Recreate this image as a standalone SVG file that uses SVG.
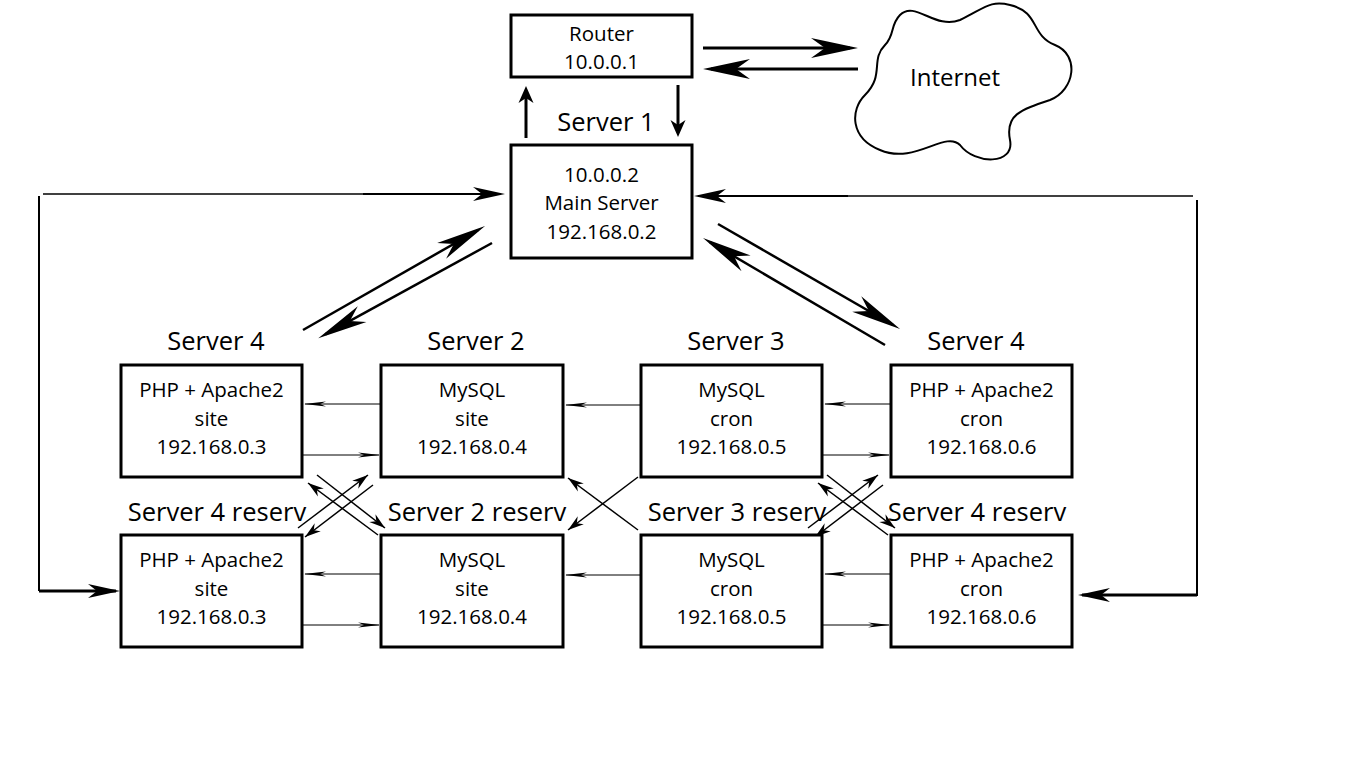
<svg xmlns="http://www.w3.org/2000/svg" width="1366" height="768" viewBox="0 0 1366 768">
<style>
text{font-family:"Open Sans","Noto Sans",sans-serif;fill:#000;text-anchor:middle}
.bt{font-size:20.5px}
.lb{font-size:25.5px}
.box{fill:#fff;stroke:#000;stroke-width:3}
.c{fill:none;stroke:#000}
</style>
<defs>
<marker id="ah" markerUnits="userSpaceOnUse" orient="auto" refX="-8" refY="0" markerWidth="1" markerHeight="1" overflow="visible"><path d="M0,0 L-47,-10 L-33,0 L-47,10 Z"/></marker>
<marker id="av" markerUnits="userSpaceOnUse" orient="auto" refX="-5" refY="0" markerWidth="1" markerHeight="1" overflow="visible"><path d="M0,0 L-17,-7.5 L-12,0 L-17,7.5 Z"/></marker>
<marker id="ad" markerUnits="userSpaceOnUse" orient="auto" refX="-8" refY="0" markerWidth="1" markerHeight="1" overflow="visible"><path d="M0,0 L-50,-9 L-36,0 L-50,9 Z"/></marker>
<marker id="ac" markerUnits="userSpaceOnUse" orient="auto" refX="-4" refY="0" markerWidth="1" markerHeight="1" overflow="visible"><path d="M0,0 L-32,-7 L-23,0 L-32,7 Z"/></marker>
<marker id="as" markerUnits="userSpaceOnUse" orient="auto" refX="-1" refY="0" markerWidth="1" markerHeight="1" overflow="visible"><path d="M0,0 L-22,-2.5 L-16,0 L-22,2.5 Z"/></marker>
<marker id="ax" markerUnits="userSpaceOnUse" orient="auto" refX="0" refY="0" markerWidth="1" markerHeight="1" overflow="visible"><path d="M0,0 L-16,-5 L-11,0 L-16,5 Z"/></marker>
</defs>
<rect width="1366" height="768" fill="#fff"/>

<g id="connectors">
<path class="c" stroke-width="3" d="M703,48 H850" marker-end="url(#ah)"/>
<path class="c" stroke-width="3" d="M858,69 H711" marker-end="url(#ah)"/>
<path class="c" stroke-width="3" d="M526,138 V91" marker-end="url(#av)"/>
<path class="c" stroke-width="3" d="M678,85 V132" marker-end="url(#av)"/>
<path class="c" stroke-width="2.5" d="M303,330 L478.1,230" marker-end="url(#ad)"/>
<path class="c" stroke-width="2.5" d="M492,243 L325.3,334.4" marker-end="url(#ad)"/>
<path class="c" stroke-width="2.5" d="M718,224 L893.1,325" marker-end="url(#ad)"/>
<path class="c" stroke-width="2.5" d="M885,345 L709.9,242.1" marker-end="url(#ad)"/>
<path class="c" stroke-width="1.5" d="M43,194 H363"/>
<path class="c" stroke-width="2" d="M363,194 H501" marker-end="url(#ac)"/>
<path class="c" stroke-width="2" d="M39,196 V591"/>
<path class="c" stroke-width="3" d="M39,591 H116" marker-end="url(#ac)"/>
<path class="c" stroke-width="1.5" d="M1193,196 H848"/>
<path class="c" stroke-width="2" d="M848,196 H698" marker-end="url(#ac)"/>
<path class="c" stroke-width="2" d="M1197,200 V596"/>
<path class="c" stroke-width="3" d="M1197,595 H1082" marker-end="url(#ac)"/>
<g stroke-width="1">
<path class="c" d="M381,404 H305" marker-end="url(#as)"/>
<path class="c" d="M303,455 H379" marker-end="url(#as)"/>
<path class="c" d="M641,405 H566" marker-end="url(#as)"/>
<path class="c" d="M891,404 H825" marker-end="url(#as)"/>
<path class="c" d="M822,455 H889" marker-end="url(#as)"/>
<path class="c" d="M381,574 H305" marker-end="url(#as)"/>
<path class="c" d="M303,625 H379" marker-end="url(#as)"/>
<path class="c" d="M641,575 H566" marker-end="url(#as)"/>
<path class="c" d="M891,574 H825" marker-end="url(#as)"/>
<path class="c" d="M822,625 H889" marker-end="url(#as)"/>
</g>
<g stroke-width="1.5">
<path class="c" d="M317,475 L385,528" marker-end="url(#ax)"/>
<path class="c" d="M378,535 L308,483" marker-end="url(#ax)"/>
<path class="c" d="M298,528 L368,475" marker-end="url(#ax)"/>
<path class="c" d="M373,485 L305,537" marker-end="url(#ax)"/>
<path class="c" d="M638,530 L568,478" marker-end="url(#ax)"/>
<path class="c" d="M638,477 L568,530" marker-end="url(#ax)"/>
<path class="c" d="M827,475 L895,528" marker-end="url(#ax)"/>
<path class="c" d="M888,535 L818,483" marker-end="url(#ax)"/>
<path class="c" d="M808,528 L878,475" marker-end="url(#ax)"/>
<path class="c" d="M883,485 L815,537" marker-end="url(#ax)"/>
</g>
</g>

<g id="internet">
<path fill="#fff" stroke="#000" stroke-width="2" d="M900,15 C915,0 935,30 960,20 C985,8 990,0 1010,5 C1040,12 1030,35 1055,45 C1080,55 1075,90 1050,100 C1020,110 1005,115 1010,140 C1015,165 975,165 960,145 C945,130 915,165 880,150 C850,138 850,110 865,95 C885,75 870,60 885,45 C895,35 890,25 900,15 Z"/>
<text x="955" y="86" style="font-size:24px">Internet</text>
</g>

<g id="router">
<rect class="box" x="511" y="15" width="181" height="62"/>
<text class="bt" x="601.5" y="41">Router</text>
<text class="bt" x="601.5" y="69">10.0.0.1</text>
</g>

<g id="server1">
<text class="lb" x="606" y="131">Server 1</text>
<rect class="box" x="511" y="145" width="181" height="113"/>
<text class="bt" x="601.5" y="182">10.0.0.2</text>
<text class="bt" x="601.5" y="210">Main Server</text>
<text class="bt" x="601.5" y="239">192.168.0.2</text>
</g>

<g id="server4-site">
<text class="lb" x="216" y="350">Server 4</text>
<rect class="box" x="121" y="365" width="181" height="112"/>
<text class="bt" x="211.5" y="397">PHP + Apache2</text>
<text class="bt" x="211.5" y="426">site</text>
<text class="bt" x="211.5" y="454">192.168.0.3</text>
</g>

<g id="server2">
<text class="lb" x="476" y="350">Server 2</text>
<rect class="box" x="381" y="365" width="182" height="112"/>
<text class="bt" x="472" y="397">MySQL</text>
<text class="bt" x="472" y="426">site</text>
<text class="bt" x="472" y="454">192.168.0.4</text>
</g>

<g id="server3">
<text class="lb" x="736" y="350">Server 3</text>
<rect class="box" x="641" y="365" width="181" height="112"/>
<text class="bt" x="731.5" y="397">MySQL</text>
<text class="bt" x="731.5" y="426">cron</text>
<text class="bt" x="731.5" y="454">192.168.0.5</text>
</g>

<g id="server4-cron">
<text class="lb" x="976" y="350">Server 4</text>
<rect class="box" x="891" y="365" width="181" height="112"/>
<text class="bt" x="981.5" y="397">PHP + Apache2</text>
<text class="bt" x="981.5" y="426">cron</text>
<text class="bt" x="981.5" y="454">192.168.0.6</text>
</g>

<g id="server4-site-reserv">
<text class="lb" x="217" y="521">Server 4 reserv</text>
<rect class="box" x="121" y="535" width="181" height="112"/>
<text class="bt" x="211.5" y="567">PHP + Apache2</text>
<text class="bt" x="211.5" y="596">site</text>
<text class="bt" x="211.5" y="624">192.168.0.3</text>
</g>

<g id="server2-reserv">
<text class="lb" x="477" y="521">Server 2 reserv</text>
<rect class="box" x="381" y="535" width="182" height="112"/>
<text class="bt" x="472" y="567">MySQL</text>
<text class="bt" x="472" y="596">site</text>
<text class="bt" x="472" y="624">192.168.0.4</text>
</g>

<g id="server3-reserv">
<text class="lb" x="737" y="521">Server 3 reserv</text>
<rect class="box" x="641" y="535" width="181" height="112"/>
<text class="bt" x="731.5" y="567">MySQL</text>
<text class="bt" x="731.5" y="596">cron</text>
<text class="bt" x="731.5" y="624">192.168.0.5</text>
</g>

<g id="server4-cron-reserv">
<text class="lb" x="977" y="521">Server 4 reserv</text>
<rect class="box" x="891" y="535" width="181" height="112"/>
<text class="bt" x="981.5" y="567">PHP + Apache2</text>
<text class="bt" x="981.5" y="596">cron</text>
<text class="bt" x="981.5" y="624">192.168.0.6</text>
</g>
</svg>
